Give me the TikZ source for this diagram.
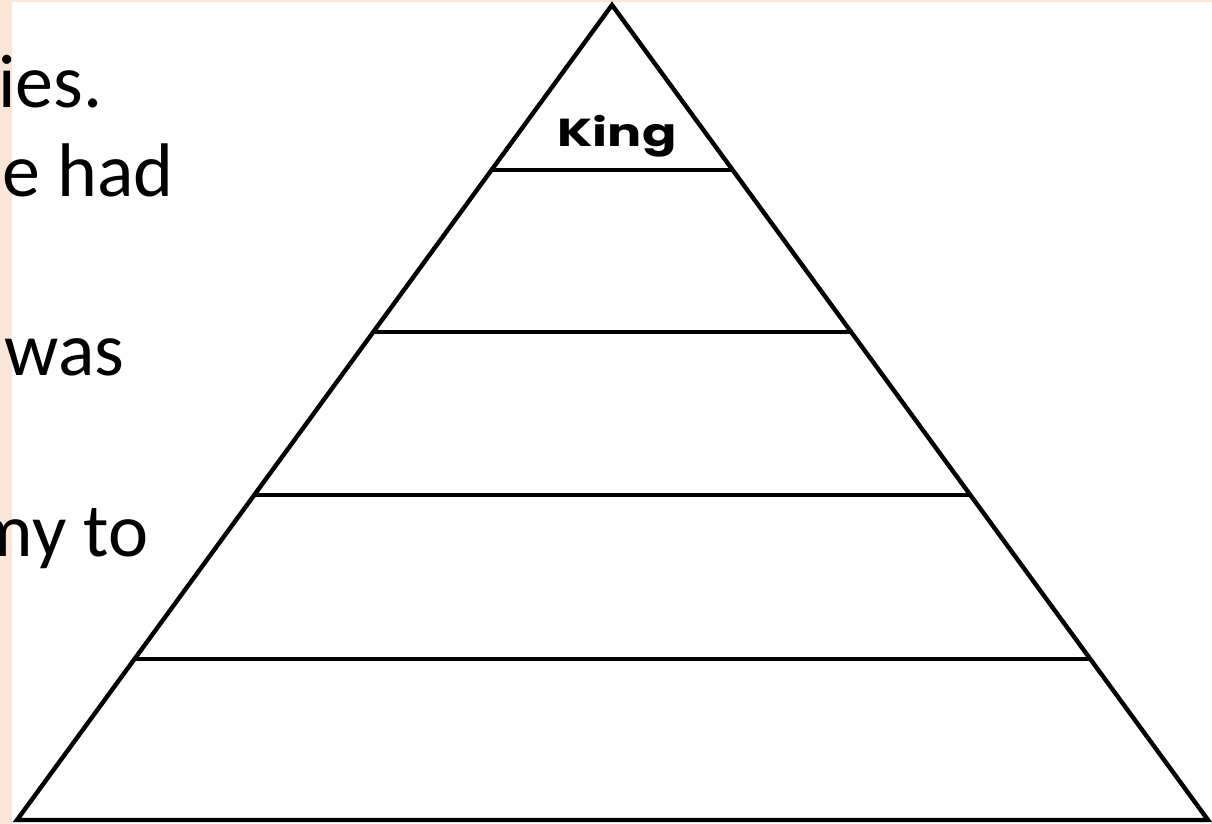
\documentclass[tikz,border=0pt]{standalone}
\usepackage{fontspec}
\setmainfont{Carlito}
\newfontfamily\kingfont[FakeStretch=1.3]{Poppins}
\usetikzlibrary{calc}
\definecolor{slidepeach}{HTML}{FBE5D6}

\begin{document}
\begin{tikzpicture}[
  x=0.5pt, y=-0.5pt,
  edge/.style={line width=2.2pt, line join=miter},
  tier/.style={line width=2.2pt},
  slide/.style={font=\fontsize{38}{46}\selectfont, anchor=base east, inner sep=0pt},
  rank/.style={font=\kingfont\bfseries\fontsize{19.5}{22}\selectfont, anchor=base, inner sep=0pt},
]
  \useasboundingbox (0,0) rectangle (1212,824);
  \clip (0,0) rectangle (1212,824);
  \fill[white] (0,0) rectangle (1212,824);

  % slide edge behind the cut-off text
  \fill[slidepeach] (0,0) rectangle (12,824);
  \fill[slidepeach] (0,0) rectangle (1212,2.5);

  \node[slide] (l1) at (103,108) {ies.};
  \node[slide] (l2) at (174,197) {he had};
  \node[slide] (l3) at (125,375) {was};
  \node[slide] (l4) at (149,556) {my to};

  \coordinate (apex) at (612,5);
  \coordinate (bl) at (17,820);
  \coordinate (br) at (1208,820);

  \draw[edge] (bl) -- (apex) -- (br) -- cycle;

  % horizontal tiers
  \foreach \t [count=\i] in {0.2025,0.4012,0.6012,0.8025}
    \draw[tier] ($(apex)!\t!(bl)$) coordinate (tl\i) -- ($(apex)!\t!(br)$) coordinate (tr\i);

  \node[rank] (king) at (617,147) {King};
\end{tikzpicture}
\end{document}
